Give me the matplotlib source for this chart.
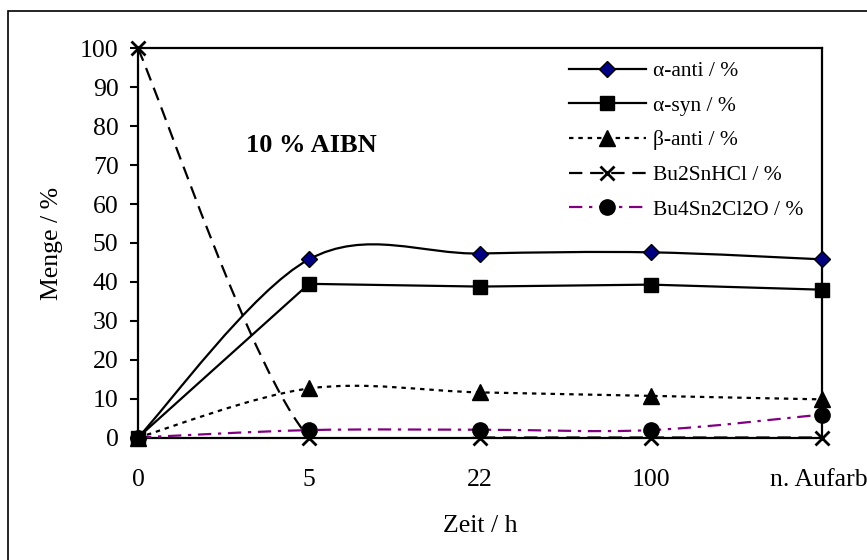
import matplotlib
matplotlib.use("Agg")
import matplotlib.pyplot as plt
import numpy as np
from matplotlib.path import Path
from matplotlib.patches import PathPatch, Rectangle
from matplotlib.lines import Line2D

plt.rcParams['font.family'] = ['Liberation Serif', 'DejaVu Serif']

# data
zeit = ['0', '5', '22', '100', 'n. Aufarb.']
alpha_anti = [0, 45.8, 47.3, 47.6, 45.8]
alpha_syn = [0, 39.5, 38.8, 39.3, 38.0]
beta_anti = [0, 12.6, 11.6, 10.7, 9.8]
bu2snhcl = [100, 0, 0, 0, 0]
bu4sn2cl2o = [0, 1.9, 2.0, 1.9, 5.9]

purple = '#800080'
# label, values, smoothed?, line style, marker style
series = [
    ('α-anti / %', alpha_anti, True, dict(color='black', ls='-'), dict(marker='D', ms=8.5, mfc='#000080', mec='black')),
    ('α-syn / %', alpha_syn, False, dict(color='black', ls='-'), dict(marker='s', ms=10.5, mfc='black', mec='black')),
    ('β-anti / %', beta_anti, True, dict(color='black', ls=(0, (2, 2.2))), dict(marker='^', ms=11, mfc='black', mec='black')),
    ('Bu2SnHCl / %', bu2snhcl, True, dict(color='black', ls=(0, (6, 3.5))), dict(marker='x', ms=9.5, mfc='black', mec='black', mew=2)),
    ('Bu4Sn2Cl2O / %', bu4sn2cl2o, True, dict(color=purple, ls=(0, (6, 3, 1.5, 3))), dict(marker='o', ms=11, mfc='black', mec='black')),
]


def smooth_path(xs, ys):
    # Excel-like smoothed line: cubic bezier segments, catmull-rom control points
    pts = np.column_stack([xs, ys]).astype(float)
    n = len(pts)
    verts = [pts[0]]
    codes = [Path.MOVETO]
    for i in range(n - 1):
        p0 = pts[max(i - 1, 0)]
        p1 = pts[i]
        p2 = pts[i + 1]
        p3 = pts[min(i + 2, n - 1)]
        c1 = p1 + (p2 - p0) / 6.0
        c2 = p2 - (p3 - p1) / 6.0
        verts += [c1, c2, p2]
        codes += [Path.CURVE4] * 3
    return Path(verts, codes)


fig = plt.figure(figsize=(8.67, 5.6), dpi=100)
ax = fig.add_axes([0.1592, 0.21875, 0.948 - 0.1592, 0.9134 - 0.21875])

x = np.arange(len(zeit))
lw = 1.6
handles = []
for label, vals, smooth, lstyle, mstyle in series:
    if smooth:
        patch = PathPatch(smooth_path(x, vals), fill=False, edgecolor=lstyle['color'],
                          linestyle=lstyle['ls'], lw=lw, zorder=3)
        ax.add_patch(patch)
    else:
        ax.plot(x, vals, color=lstyle['color'], ls=lstyle['ls'], lw=lw, zorder=3)
    ax.plot(x, vals, ls='none', zorder=4, clip_on=False, **mstyle)
    handles.append(Line2D([], [], color=lstyle['color'], ls=lstyle['ls'], lw=lw, **mstyle))

ax.set_xlim(0, len(zeit) - 1)
ax.set_ylim(0, 100)
ax.set_yticks(np.arange(0, 101, 10))
ax.set_xticks(x)
ax.set_xticklabels(zeit)
ax.tick_params(axis='y', direction='out', length=6, width=1.5, labelsize=18.5, pad=8)
ax.tick_params(axis='x', length=0, labelsize=18.5, pad=23)
for sp in ax.spines.values():
    sp.set_linewidth(1.6)
    sp.set_color('black')

ax.set_ylabel('Menge / %', fontsize=18.5, labelpad=12)
ax.set_xlabel('Zeit / h', fontsize=18.5, labelpad=17)

ax.text(0.63, 75, '10 % AIBN', fontsize=19, fontweight='bold', va='center', ha='left')

leg = ax.legend(handles, [s[0] for s in series], loc='upper right', frameon=False,
                fontsize=15.5, handlelength=3.6, handletextpad=0.3, labelspacing=0.68,
                bbox_to_anchor=(0.985, 0.99), borderaxespad=0)

# outer chart border (cut off at right and bottom in the original)
fig.patches.append(Rectangle((8 / 867, -0.1), 1.2, 1.1 - 11 / 560, transform=fig.transFigure,
                             fill=False, edgecolor='black', lw=1.2))

fig.savefig('out.png', dpi=100)
